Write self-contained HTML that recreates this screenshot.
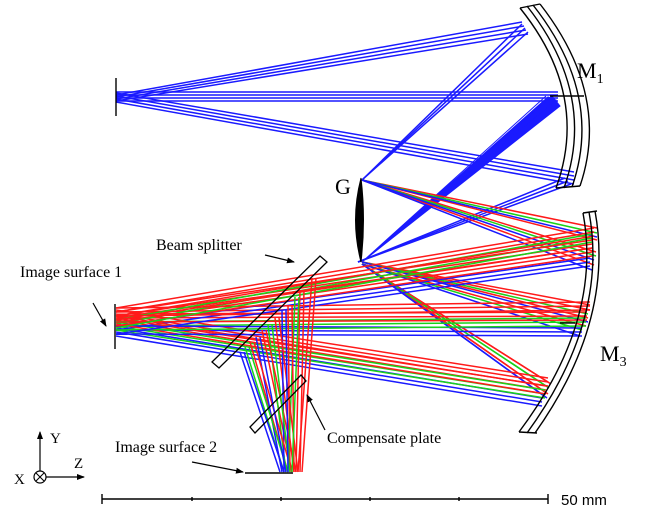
<!DOCTYPE html>
<html><head><meta charset="utf-8"><style>
html,body{margin:0;padding:0;background:#fff;}
svg{display:block;}
</style></head><body>
<svg width="646" height="519" viewBox="0 0 646 519" xmlns="http://www.w3.org/2000/svg">
<defs>
<marker id="ah" markerWidth="8" markerHeight="8" refX="7" refY="4" orient="auto" markerUnits="userSpaceOnUse">
<path d="M0,1 L8,4 L0,7 z" fill="#000"/></marker>
</defs>
<g fill="none" stroke-width="1.5">
<g stroke="#1a1aff">
<line x1="116" y1="95" x2="522" y2="22"/><line x1="116" y1="97" x2="524" y2="26"/><line x1="116" y1="99" x2="526" y2="30"/><line x1="116" y1="101" x2="528" y2="34"/>
<line x1="116" y1="92" x2="558" y2="92"/><line x1="116" y1="95" x2="558" y2="95"/><line x1="116" y1="98" x2="558" y2="98"/><line x1="116" y1="101" x2="558" y2="101"/>
<line x1="116" y1="93" x2="574" y2="172"/><line x1="116" y1="96" x2="574" y2="176"/><line x1="116" y1="99" x2="574" y2="180"/><line x1="116" y1="102" x2="574" y2="184"/>
<line x1="522" y1="24" x2="362" y2="180"/><line x1="525" y1="28" x2="362" y2="180"/><line x1="528" y1="32" x2="362" y2="180"/>
<path d="M546 96 L362 262 L560 106 L552 96 L362 262 L556 100 L548 97 L362 262" fill="#1a1aff" stroke-width="1"/>
<line x1="565" y1="178" x2="358" y2="262"/><line x1="568" y1="181" x2="358" y2="262"/><line x1="571" y1="184" x2="358" y2="262"/>
</g>
<g id="gtop">
<g stroke="#ff1a1a"><line x1="362" y1="180" x2="597" y2="228"/><line x1="362" y1="180" x2="597" y2="240"/><line x1="362" y1="180" x2="596" y2="252"/><line x1="362" y1="180" x2="594" y2="265"/></g>
<g stroke="#1ad21a"><line x1="362" y1="180" x2="597" y2="233"/><line x1="362" y1="180" x2="596" y2="256"/></g>
<g stroke="#1a1aff"><line x1="362" y1="180" x2="597" y2="237"/><line x1="362" y1="180" x2="594" y2="260"/><line x1="362" y1="180" x2="592" y2="270"/></g>
</g>
<g id="gmid">
<g stroke="#ff1a1a"><line x1="362" y1="262" x2="590" y2="305"/><line x1="362" y1="262" x2="590" y2="310"/><line x1="362" y1="262" x2="588" y2="318"/><line x1="362" y1="264" x2="586" y2="326"/></g>
<g stroke="#1ad21a"><line x1="362" y1="262" x2="588" y2="314"/><line x1="362" y1="264" x2="582" y2="330"/></g>
<g stroke="#1a1aff"><line x1="362" y1="262" x2="588" y2="322"/><line x1="362" y1="264" x2="580" y2="336"/></g>
</g>
<g id="gbot">
<g stroke="#ff1a1a"><line x1="362" y1="264" x2="548" y2="382"/><line x1="362" y1="264" x2="545" y2="392"/></g>
<g stroke="#1ad21a"><line x1="362" y1="264" x2="546" y2="386"/></g>
<g stroke="#1a1aff"><line x1="362" y1="264" x2="544" y2="396"/></g>
</g>
<use href="#gbot" transform="translate(3,2)"/>
<g id="img1">
<g stroke="#ff1a1a"><line x1="594" y1="232" x2="116" y2="312"/><line x1="592" y1="244" x2="116" y2="316"/><line x1="590" y1="306" x2="116" y2="312"/><line x1="587" y1="316" x2="116" y2="318"/><line x1="548" y1="382" x2="116" y2="314"/><line x1="546" y1="390" x2="116" y2="320"/><line x1="592" y1="252" x2="116" y2="322"/></g>
<g stroke="#1ad21a"><line x1="592" y1="238" x2="116" y2="324"/><line x1="586" y1="322" x2="116" y2="326"/><line x1="545" y1="394" x2="116" y2="326"/></g>
<g stroke="#1a1aff"><line x1="590" y1="262" x2="116" y2="330"/><line x1="582" y1="332" x2="116" y2="330"/><line x1="542" y1="402" x2="116" y2="332"/></g>
</g>
<use href="#img1" transform="translate(0,-4)"/>
<use href="#img1" transform="translate(0,4)"/>
<g id="img2">
<g stroke="#ff1a1a"><line x1="262" y1="330" x2="292" y2="472"/><line x1="275" y1="318" x2="294" y2="472"/><line x1="300" y1="290" x2="296" y2="472"/><line x1="312" y1="278" x2="298" y2="472"/><line x1="288" y1="305" x2="290" y2="472"/><line x1="250" y1="342" x2="288" y2="472"/></g>
<g stroke="#1ad21a"><line x1="245" y1="347" x2="284" y2="472"/><line x1="268" y1="325" x2="286" y2="472"/><line x1="295" y1="297" x2="288" y2="472"/></g>
<g stroke="#1a1aff"><line x1="240" y1="352" x2="280" y2="472"/><line x1="256" y1="337" x2="282" y2="472"/><line x1="282" y1="310" x2="284" y2="472"/></g>
</g>
<use href="#img2" transform="translate(4,0)"/>
</g>
<g fill="none" stroke="#000" stroke-width="1.4">
<path d="M520 8 Q590 95 556 188"/><path d="M527 6 Q597 95 564 188"/><path d="M533 5 Q604 95 572 187"/><path d="M540 4 Q611 95 580 186"/>
<line x1="520" y1="8" x2="540" y2="4"/><line x1="556" y1="188" x2="580" y2="186"/>
<line x1="550" y1="96" x2="584" y2="96"/>
<path d="M583 213 Q603 320 519 432"/><path d="M589 212 Q609 320 527 433"/><path d="M595 211 Q615 320 535 433"/>
<line x1="583" y1="213" x2="597" y2="211"/><line x1="519" y1="432" x2="537" y2="433"/>
<line x1="560" y1="323" x2="575" y2="323"/>
<path d="M361 178 Q350 220 361 262 Q366 220 361 178 z" fill="#000" stroke-width="1"/>
<line x1="116" y1="78" x2="116" y2="116"/>
<line x1="115" y1="304" x2="115" y2="349"/>
<line x1="245" y1="473" x2="293" y2="473"/>
<polygon points="212,362 320,256 327,262 219,368" fill="none" stroke-width="1.3"/>
<polygon points="250,427 301,375 306,381 255,433" fill="none" stroke-width="1.3"/>
<line x1="265" y1="255" x2="294" y2="262" marker-end="url(#ah)" stroke-width="1.2"/>
<line x1="93" y1="303" x2="106" y2="326" marker-end="url(#ah)" stroke-width="1.2"/>
<line x1="325" y1="430" x2="307" y2="395" marker-end="url(#ah)" stroke-width="1.2"/>
<line x1="192" y1="462" x2="243" y2="472" marker-end="url(#ah)" stroke-width="1.2"/>
<line x1="40" y1="471" x2="40" y2="432" marker-end="url(#ah)" stroke-width="1.2"/>
<line x1="46" y1="477" x2="84" y2="477" marker-end="url(#ah)" stroke-width="1.2"/>
<circle cx="40" cy="477" r="6" stroke-width="1.2"/>
<line x1="36" y1="473" x2="44" y2="481" stroke-width="1.1"/><line x1="44" y1="473" x2="36" y2="481" stroke-width="1.1"/>
<line x1="102" y1="499" x2="548" y2="499"/>
<line x1="102" y1="494" x2="102" y2="504"/><line x1="548" y1="494" x2="548" y2="504"/>
<line x1="192" y1="497" x2="192" y2="501"/><line x1="281" y1="497" x2="281" y2="501"/><line x1="370" y1="497" x2="370" y2="501"/><line x1="459" y1="497" x2="459" y2="501"/>
</g>
<g font-family="Liberation Serif, serif" fill="#000">
<text x="577" y="78" font-size="22">M<tspan font-size="14" dy="5">1</tspan></text>
<text x="335" y="194" font-size="22">G</text>
<text x="600" y="361" font-size="22">M<tspan font-size="14" dy="5">3</tspan></text>
<text x="156" y="250" font-size="16">Beam splitter</text>
<text x="20" y="277" font-size="16">Image surface 1</text>
<text x="115" y="452" font-size="16">Image surface 2</text>
<text x="327" y="443" font-size="16">Compensate plate</text>
<text x="50" y="443" font-size="15">Y</text>
<text x="74" y="468" font-size="15">Z</text>
<text x="14" y="484" font-size="15">X</text>
</g>
<text x="561" y="505" font-size="15" font-family="Liberation Sans, sans-serif">50 mm</text>
</svg>
</body></html>
